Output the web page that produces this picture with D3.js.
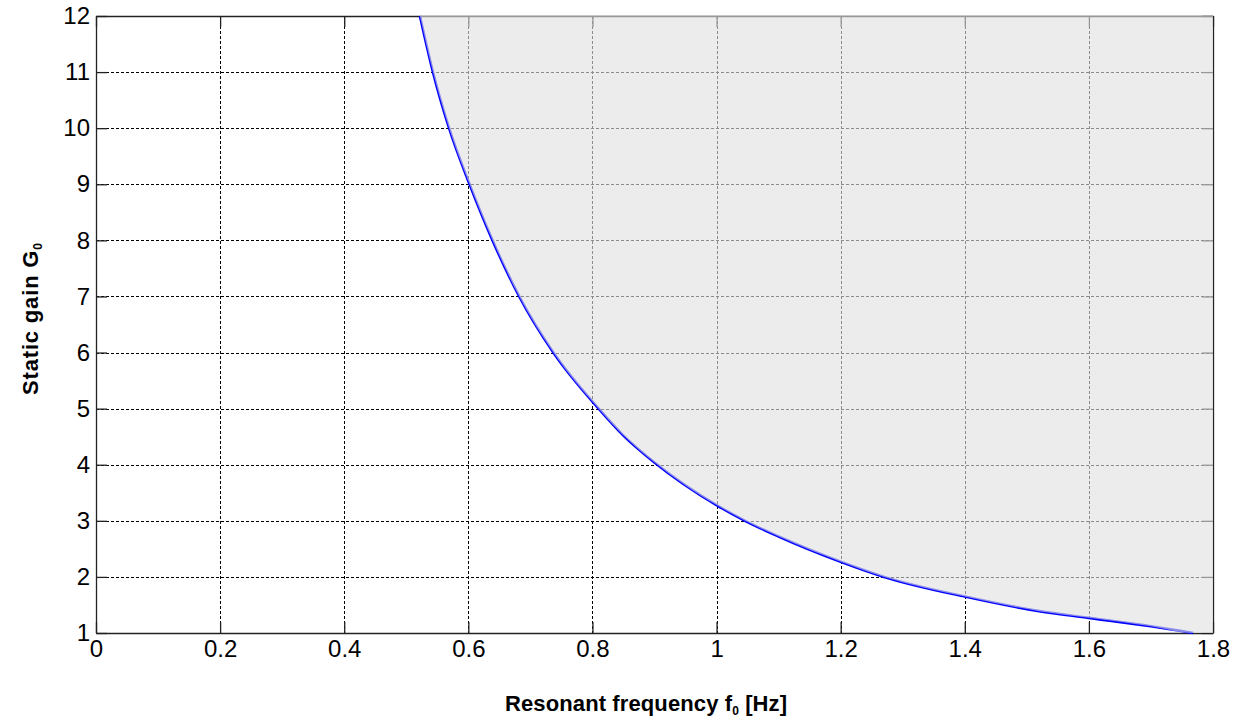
<!DOCTYPE html>
<html>
<head>
<meta charset="utf-8">
<script src="https://cdn.jsdelivr.net/npm/d3@7"></script>
<style>
  body { margin: 0; background: #fff; }
  text { font-family: Arial, "Liberation Sans", sans-serif; fill: #000; }
</style>
</head>
<body>
<div id="chart"></div>
<script>
// Values
const freq = [0.522, 0.543, 0.569, 0.602, 0.639, 0.682, 0.737, 0.81, 0.85, 0.90, 1.0, 1.046, 1.10, 1.2, 1.27, 1.4, 1.52, 1.6, 1.7, 1.768];
const gain = [12, 11, 10, 9, 8, 7, 6, 5, 4.52, 4.04, 3.28, 3, 2.72, 2.27, 2, 1.65, 1.39, 1.27, 1.12, 1.0];
const xTicks = [0, 0.2, 0.4, 0.6, 0.8, 1, 1.2, 1.4, 1.6, 1.8];
const yTicks = [1, 2, 3, 4, 5, 6, 7, 8, 9, 10, 11, 12];

const width = 1241;
const height = 719;
// Plot area in pixels
const margin = { top: 16, right: 28, bottom: 86, left: 96 };
const usableArea = {
  top: margin.top,
  right: width - margin.right,
  bottom: height - margin.bottom,
  left: margin.left,
  width: width - margin.left - margin.right,
  height: height - margin.top - margin.bottom,
};

const points = freq.map((f, i) => ({ f, g: gain[i] }));

const svg = d3.select('#chart')
  .append('svg')
  .attr('width', width)
  .attr('height', height);

const xScale = d3.scaleLinear().domain([0, 1.8]).range([usableArea.left, usableArea.right]);
const yScale = d3.scaleLinear().domain([1, 12]).range([usableArea.bottom, usableArea.top]);

// Dashed grid
const grid = svg.append('g').attr('class', 'grid')
  .attr('stroke', '#000').attr('stroke-width', 1).attr('stroke-dasharray', '3,2');
grid.selectAll('line.v')
  .data(xTicks.slice(1, -1))
  .join('line')
  .attr('x1', d => Math.round(xScale(d)) + 0.5).attr('x2', d => Math.round(xScale(d)) + 0.5)
  .attr('y1', usableArea.top).attr('y2', usableArea.bottom);
grid.selectAll('line.h')
  .data(yTicks.slice(1, -1))
  .enter().append('line')
  .attr('y1', d => Math.round(yScale(d)) + 0.5).attr('y2', d => Math.round(yScale(d)) + 0.5)
  .attr('x1', usableArea.left).attr('x2', usableArea.right);

// Axes with inward ticks on all four sides
const tickLen = 11;
svg.append('g')
  .attr('transform', `translate(0, ${usableArea.bottom})`)
  .call(d3.axisBottom(xScale).tickValues(xTicks).tickSizeInner(-tickLen).tickSizeOuter(0).tickPadding(7)
    .tickFormat(d => d3.format('~g')(d)));
svg.append('g')
  .attr('transform', `translate(0, ${usableArea.top})`)
  .call(d3.axisTop(xScale).tickValues(xTicks).tickSizeInner(-tickLen).tickSizeOuter(0).tickFormat(''));
svg.append('g')
  .attr('transform', `translate(${usableArea.left}, 0)`)
  .call(d3.axisLeft(yScale).tickValues(yTicks).tickSizeInner(-tickLen).tickSizeOuter(0).tickPadding(6));
svg.append('g')
  .attr('transform', `translate(${usableArea.right}, 0)`)
  .call(d3.axisRight(yScale).tickValues(yTicks).tickSizeInner(-tickLen).tickSizeOuter(0).tickFormat(''));

svg.selectAll('.domain, .tick line').attr('stroke', '#222').attr('stroke-width', 1.3);
svg.selectAll('.tick text')
  .attr('font-size', 24)
  .attr('font-family', 'Arial, "Liberation Sans", sans-serif')
  .attr('fill', '#000');

// Curve
const line = d3.line()
  .x(d => xScale(d.f))
  .y(d => yScale(d.g))
  .curve(d3.curveMonotoneX);
svg.append('path')
  .datum(points)
  .attr('fill', 'none')
  .attr('stroke', '#0000ff')
  .attr('stroke-width', 2.6)
  .attr('d', line);

// Shaded region above/right of the curve, drawn over grid and curve edge
const areaPts = points.concat([{ f: xScale.domain()[1], g: yScale.domain()[0] }]);
const area = d3.area()
  .x(d => xScale(d.f))
  .y0(yScale(yScale.domain()[1]))
  .y1(d => yScale(d.g))
  .curve(d3.curveMonotoneX);
svg.append('path')
  .datum(areaPts)
  .attr('fill', 'rgb(224,224,224)')
  .attr('fill-opacity', 0.62)
  .attr('d', area);

// Axis labels
const xLabel = svg.append('text')
  .attr('x', 646)
  .attr('y', 711)
  .attr('text-anchor', 'middle')
  .attr('font-size', 22)
  .attr('font-weight', 'bold')
  .attr('textLength', 282)
  .attr('lengthAdjust', 'spacing');
xLabel.append('tspan').text('Resonant frequency f');
xLabel.append('tspan').attr('font-size', 12).attr('dy', 4).text('0');
xLabel.append('tspan').attr('dy', -4).text(' [Hz]');

const yLabel = svg.append('text')
  .attr('transform', `translate(38, 319) rotate(-90)`)
  .attr('text-anchor', 'middle')
  .attr('font-size', 22)
  .attr('font-weight', 'bold')
  .attr('textLength', 152)
  .attr('lengthAdjust', 'spacing');
yLabel.append('tspan').text('Static gain G');
yLabel.append('tspan').attr('font-size', 12).attr('dy', 4).text('0');
</script>
</body>
</html>
